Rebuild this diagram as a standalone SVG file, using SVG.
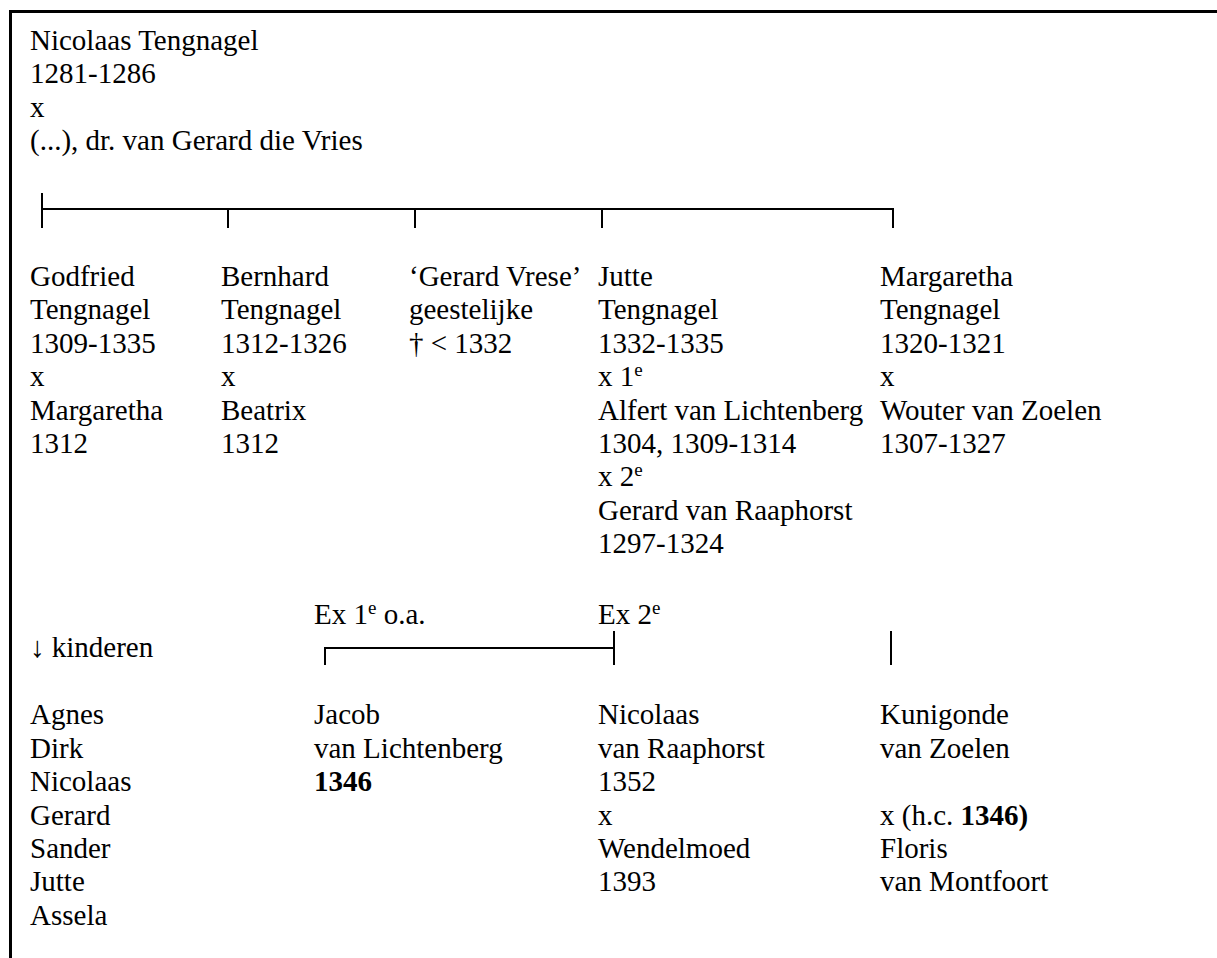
<svg xmlns="http://www.w3.org/2000/svg" width="1217" height="958" viewBox="0 0 1217 958" font-family="'Liberation Serif', 'DejaVu Serif', serif">
<style>
text{font-family:'Liberation Serif','DejaVu Serif',serif;font-size:29px;fill:#000}
.b{font-weight:bold}
.sup{font-size:19px}
.ln{stroke:#000;stroke-width:2;fill:none}
.frame{stroke:#000;stroke-width:3;fill:none}
</style>
<rect width="1217" height="958" fill="#fff"/>
<path class="frame" d="M10.5,958V11.5H1217"/>
<g id="root">
<text><tspan x="30" y="50">Nicolaas Tengnagel</tspan><tspan x="30" y="83.4">1281-1286</tspan><tspan x="30" y="116.8">x</tspan><tspan x="30" y="150.2">(...), dr. van Gerard die Vries</tspan></text>
</g>
<g id="connectors">
<path class="ln" d="M42,193V228M42,209H893V228M228,209V228M415,209V228M602,209V228"/>
<path class="ln" d="M325,665V648H614M614,631V665"/>
<path class="ln" d="M891,631V665"/>
</g>
<g id="godfried">
<text><tspan x="30" y="286">Godfried</tspan><tspan x="30" y="319.4">Tengnagel</tspan><tspan x="30" y="352.8">1309-1335</tspan><tspan x="30" y="386.2">x</tspan><tspan x="30" y="419.6">Margaretha</tspan><tspan x="30" y="453">1312</tspan></text>
</g>
<g id="bernhard">
<text><tspan x="221" y="286">Bernhard</tspan><tspan x="221" y="319.4">Tengnagel</tspan><tspan x="221" y="352.8">1312-1326</tspan><tspan x="221" y="386.2">x</tspan><tspan x="221" y="419.6">Beatrix</tspan><tspan x="221" y="453">1312</tspan></text>
</g>
<g id="gerard-vrese">
<text><tspan x="409" y="286">‘Gerard Vrese’</tspan><tspan x="409" y="319.4">geestelijke</tspan><tspan x="409" y="352.8">† &lt; 1332</tspan></text>
</g>
<g id="jutte">
<text><tspan x="598" y="286">Jutte</tspan><tspan x="598" y="319.4">Tengnagel</tspan><tspan x="598" y="352.8">1332-1335</tspan><tspan x="598" y="386.2">x 1</tspan><tspan class="sup" dy="-10">e</tspan><tspan x="598" y="419.6">Alfert van Lichtenberg</tspan><tspan x="598" y="453">1304, 1309-1314</tspan><tspan x="598" y="486.4">x 2</tspan><tspan class="sup" dy="-10">e</tspan><tspan x="598" y="519.8">Gerard van Raaphorst</tspan><tspan x="598" y="553.2">1297-1324</tspan></text>
</g>
<g id="margaretha">
<text><tspan x="880" y="286">Margaretha</tspan><tspan x="880" y="319.4">Tengnagel</tspan><tspan x="880" y="352.8">1320-1321</tspan><tspan x="880" y="386.2">x</tspan><tspan x="880" y="419.6">Wouter van Zoelen</tspan><tspan x="880" y="453">1307-1327</tspan></text>
</g>
<g id="ex1-label">
<text><tspan x="314" y="624">Ex 1</tspan><tspan class="sup" dy="-10">e</tspan><tspan dy="10"> o.a.</tspan></text>
</g>
<g id="ex2-label">
<text><tspan x="598" y="624">Ex 2</tspan><tspan class="sup" dy="-10">e</tspan></text>
</g>
<g id="kinderen-label">
<text x="30" y="657">↓ kinderen</text>
</g>
<g id="kinderen">
<text><tspan x="30" y="724.3">Agnes</tspan><tspan x="30" y="757.7">Dirk</tspan><tspan x="30" y="791.1">Nicolaas</tspan><tspan x="30" y="824.5">Gerard</tspan><tspan x="30" y="857.9">Sander</tspan><tspan x="30" y="891.3">Jutte</tspan><tspan x="30" y="924.7">Assela</tspan></text>
</g>
<g id="jacob">
<text><tspan x="314" y="724.3">Jacob</tspan><tspan x="314" y="757.7">van Lichtenberg</tspan><tspan class="b" x="314" y="791.1">1346</tspan></text>
</g>
<g id="nicolaas-raaphorst">
<text><tspan x="598" y="724.3">Nicolaas</tspan><tspan x="598" y="757.7">van Raaphorst</tspan><tspan x="598" y="791.1">1352</tspan><tspan x="598" y="824.5">x</tspan><tspan x="598" y="857.9">Wendelmoed</tspan><tspan x="598" y="891.3">1393</tspan></text>
</g>
<g id="kunigonde">
<text><tspan x="880" y="724.3">Kunigonde</tspan><tspan x="880" y="757.7">van Zoelen</tspan><tspan x="880" y="824.5">x (h.c. </tspan><tspan class="b">1346)</tspan><tspan x="880" y="857.9">Floris</tspan><tspan x="880" y="891.3">van Montfoort</tspan></text>
</g>
</svg>
